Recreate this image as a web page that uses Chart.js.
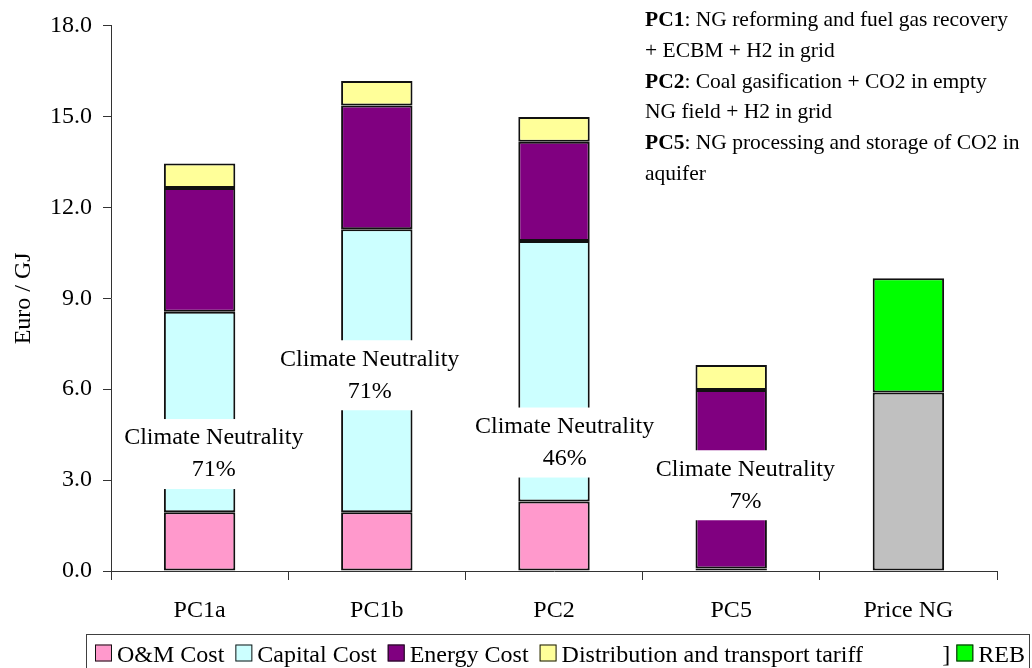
<!DOCTYPE html>
<html>
<head>
<meta charset="utf-8">
<script src="https://cdn.jsdelivr.net/npm/chart.js@4.4.0/dist/chart.umd.min.js"></script>
<style>
  html, body { margin: 0; padding: 0; background: #fff; }
</style>
</head>
<body>
<canvas id="costChart" width="1032" height="668"></canvas>
<script>
// Cost build-up per pathway (Euro / GJ)
const categories = ['PC1a', 'PC1b', 'PC2', 'PC5', 'Price NG'];
const omCost = [1.94, 1.94, 2.29, 0.08, null];
const capitalCost = [6.62, 9.34, 8.60, null, null];
const energyCost = [4.08, 4.08, 3.28, 5.89, null];
const distributionTariff = [0.81, 0.81, 0.81, 0.83, null];
const priceNG = [null, null, null, null, 5.89];
const reb = [null, null, null, null, 3.77];
const yTicks = [0, 3, 6, 9, 12, 15, 18];

// Climate neutrality call-outs (category position, value height)
const neutralityText = ['71%', '71%', '46%', '7%'];
const neutralityX = [0.08, 0.96, 2.06, 3.08];
const neutralityY = [3.86, 6.46, 4.24, 2.83];

// Pathway notes, top right
const noteLines = [
  ['PC1', ': NG reforming and fuel gas recovery'],
  ['', '+ ECBM + H2 in grid'],
  ['PC2', ': Coal gasification + CO2 in empty'],
  ['', 'NG field + H2 in grid'],
  ['PC5', ': NG processing and storage of CO2 in'],
  ['', 'aquifer']
];

const serif = "'Liberation Serif', 'Times New Roman', serif";
const edge = '#111';

const colors = {
  om: '#FF99CC',
  capital: '#CCFFFF',
  energy: '#800080',
  tariff: '#FFFF99',
  gray: '#C0C0C0',
  reb: '#00FF00'
};

function segment(label, data, color) {
  return {
    label: label,
    data: data,
    backgroundColor: color,
    borderColor: edge,
    borderWidth: 2,
    borderSkipped: false,
    barPercentage: 0.403,
    categoryPercentage: 1.0
  };
}

// white-backed "Climate Neutrality" labels
const neutralityLabels = {
  id: 'neutralityLabels',
  afterDatasetsDraw(chart) {
    const ctx = chart.ctx;
    const xs = chart.scales.x, ys = chart.scales.y;
    ctx.save();
    ctx.font = '24px ' + serif;
    ctx.textAlign = 'center';
    ctx.textBaseline = 'middle';
    const w = ctx.measureText('Climate Neutrality').width;
    neutralityText.forEach((t, i) => {
      const px = xs.getPixelForValue(neutralityX[i]);
      const py = ys.getPixelForValue(neutralityY[i]);
      ctx.fillStyle = '#fff';
      ctx.fillRect(px - w / 2 - 2, py - 35, w + 4, 70);
      ctx.fillStyle = '#000';
      ctx.fillText('Climate Neutrality', px, py - 16);
      ctx.fillText(t, px, py + 16);
    });
    ctx.restore();
  }
};

// notes block + boxed legend along the bottom
const notesAndLegend = {
  id: 'notesAndLegend',
  afterDraw(chart) {
    const ctx = chart.ctx;
    ctx.save();
    ctx.fillStyle = '#000';
    ctx.textBaseline = 'alphabetic';
    ctx.textAlign = 'left';
    noteLines.forEach((ln, i) => {
      const y = 26 + i * 30.8;
      let x = 645;
      if (ln[0]) {
        ctx.font = 'bold 21.5px ' + serif;
        ctx.fillText(ln[0], x, y);
        x += ctx.measureText(ln[0]).width;
      }
      ctx.font = '21.5px ' + serif;
      ctx.fillText(ln[1], x, y);
    });

    // legend frame
    ctx.strokeStyle = '#404040';
    ctx.lineWidth = 1;
    ctx.strokeRect(86.5, 634.5, 943, 50);

    ctx.font = '24px ' + serif;
    const sets = chart.data.datasets;
    const box = 17, baseY = 661.5;
    const drawItem = (ds, x) => {
      ctx.fillStyle = ds.backgroundColor;
      ctx.fillRect(x, baseY - box, box, box);
      ctx.strokeStyle = edge;
      ctx.lineWidth = 1;
      ctx.strokeRect(x + 0.5, baseY - box + 0.5, box - 1, box - 1);
      ctx.fillStyle = '#000';
      ctx.fillText(ds.label, x + box + 5, baseY);
    };
    let x = 95;
    sets.slice(0, 4).forEach(ds => {
      drawItem(ds, x);
      x += box + 5 + ctx.measureText(ds.label).width + 11;
    });
    // right end: clipped gray entry and REB
    const last = sets[5];
    const rebX = 1025 - ctx.measureText(last.label).width - 5 - box;
    drawItem(last, rebX);
    ctx.fillStyle = '#000';
    ctx.fillText(']', rebX - 14, baseY);
    ctx.restore();
  }
};

new Chart(document.getElementById('costChart'), {
  type: 'bar',
  data: {
    labels: categories,
    datasets: [
      segment('O&M Cost', omCost, colors.om),
      segment('Capital Cost', capitalCost, colors.capital),
      segment('Energy Cost', energyCost, colors.energy),
      segment('Distribution and transport tariff', distributionTariff, colors.tariff),
      segment('Price NG', priceNG, colors.gray),
      segment('REB', reb, colors.reb)
    ]
  },
  options: {
    responsive: false,
    animation: false,
    layout: { padding: { top: 25.6, right: 35, left: 0, bottom: 0 } },
    plugins: {
      legend: { display: false },
      tooltip: { enabled: false }
    },
    scales: {
      x: {
        stacked: true,
        offset: true,
        grid: {
          offset: true,
          drawOnChartArea: false,
          drawTicks: true,
          tickLength: 9,
          color: '#333'
        },
        border: { display: true, color: '#333', width: 1 },
        ticks: {
          color: '#000',
          padding: 16,
          font: { family: serif, size: 24 }
        },
        afterFit: s => { s.height = 97; }
      },
      y: {
        stacked: true,
        min: 0,
        max: 18,
        afterBuildTicks: s => { s.ticks = yTicks.map(v => ({ value: v })); },
        grid: {
          drawOnChartArea: false,
          drawTicks: true,
          tickLength: 8,
          color: '#333'
        },
        border: { display: true, color: '#333', width: 1 },
        ticks: {
          color: '#000',
          padding: 11,
          font: { family: serif, size: 24 },
          callback: v => Number(v).toFixed(1)
        },
        title: {
          display: true,
          text: 'Euro / GJ',
          color: '#000',
          font: { family: serif, size: 24 },
          padding: { top: 9, bottom: 0 }
        },
        afterFit: s => { s.width = 111; }
      }
    }
  },
  plugins: [neutralityLabels, notesAndLegend]
});
</script>
</body>
</html>
